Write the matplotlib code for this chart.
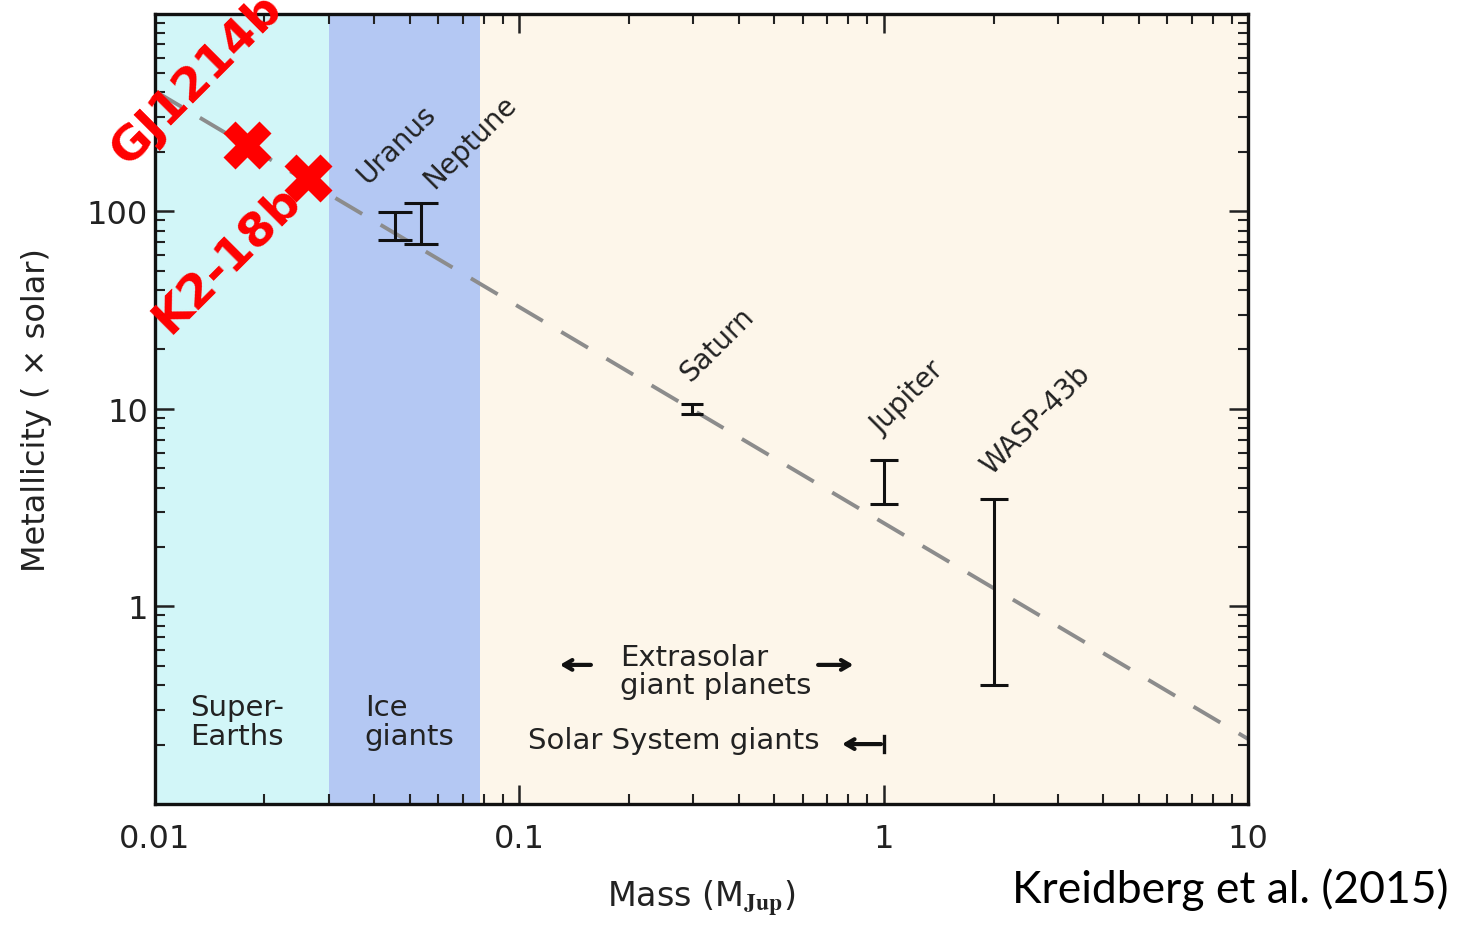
import matplotlib.pyplot as plt
import numpy as np

plt.rcParams['mathtext.fontset'] = 'stix'
plt.rcParams['font.family'] = ['DejaVu Sans']

# mass ranges of the shaded regions (M_Jup)
region_edges = [0.01, 0.03, 0.078, 10]
region_colors = ['#d2f6f8', '#b4c8f3', '#fdf6ea']
region_names = ['Super-\nEarths', 'Ice\ngiants']

# planets with metallicity error bars
planets = ['Uranus', 'Neptune', 'Saturn', 'Jupiter', 'WASP-43b']
planet_mass = [0.0456, 0.0537, 0.298, 1.0, 2.0]
metal_lo = [72, 68, 9.4, 3.3, 0.40]
metal_hi = [99, 110, 10.6, 5.5, 3.5]
cap_pt = [12, 12, 8, 10, 10]

# dashed fit line end points
fit_mass = [0.01, 10]
fit_metal = [407, 0.213]

# added targets
targets = ['GJ1214b', 'K2-18b']
target_mass = [0.0179, 0.0263]
target_metal = [217, 148]

fig = plt.figure(figsize=(14.6, 9.29), dpi=100)
ax = fig.add_axes([0.106, 0.1335, 0.749, 0.8505])

for i in range(3):
    ax.axvspan(region_edges[i], region_edges[i + 1], color=region_colors[i], lw=0, zorder=0)

ax.plot(fit_mass, fit_metal, color='#8c8c8c', lw=2.8, ls=(0, (8, 5.5)), zorder=2)

for m, lo, hi, cs in zip(planet_mass, metal_lo, metal_hi, cap_pt):
    mid = (lo * hi) ** 0.5
    ax.errorbar([m], [mid], yerr=[[mid - lo], [hi - mid]], fmt='none', ecolor='#111111',
                elinewidth=2.2, capsize=cs, capthick=2.2, zorder=3)

ax.plot(target_mass, target_metal, 'X', color='#ff0000', markersize=34, mec='none', zorder=5)

ax.set_xscale('log')
ax.set_yscale('log')
ax.set_xlim(0.01, 10)
ax.set_ylim(0.1, 1000)

ax.set_xticks([0.01, 0.1, 1, 10])
ax.set_xticklabels(['0.01', '0.1', '1', '10'])
ax.set_yticks([0.1, 1, 10, 100, 1000])
ax.set_yticklabels(['', '1', '10', '100', ''])
ax.tick_params(which='both', direction='in', top=True, right=True, color='#222222')
ax.tick_params(which='major', length=14, width=1.8, labelsize=23, labelcolor='#222222')
ax.tick_params(axis='x', which='major', pad=14)
ax.tick_params(axis='y', which='major', pad=5)
ax.tick_params(which='minor', length=7, width=1.5)
for s in ax.spines.values():
    s.set_linewidth(2.4)
    s.set_color('#111111')

ax.set_xlabel(r'Mass (M$_{\mathbf{Jup}}$)', fontsize=24, color='#222222')
ax.set_ylabel(u'Metallicity ( \u00d7 solar)', fontsize=23, color='#222222')
ax.xaxis.set_label_coords(0.5, -0.093)
ax.yaxis.set_label_coords(-0.094, 0.5)

# region labels
ax.text(0.0125, 0.262, region_names[0], fontsize=21, color='#222222', ha='left', va='center',
        linespacing=1.05)
ax.text(0.0377, 0.262, region_names[1], fontsize=21, color='#222222', ha='left', va='center',
        linespacing=1.05)

# planet names
name_xy = [(0.0462, 220), (0.0733, 227), (0.349, 21.3), (1.159, 11.5), (2.61, 8.9)]
for name, (x, y) in zip(planets, name_xy):
    ax.text(x, y, name, rotation=45, fontsize=20, color='#222222', ha='center', va='center',
            rotation_mode='anchor')

# target names
ax.text(0.0131, 470, targets[0], rotation=45, fontsize=34, color='#ff0000', fontweight='bold',
        ha='center', va='center', rotation_mode='anchor', clip_on=False)
ax.text(0.0158, 58, targets[1], rotation=45, fontsize=34, color='#ff0000', fontweight='bold',
        ha='center', va='center', rotation_mode='anchor')

# extrasolar / solar system annotations
arrow = dict(arrowstyle='->,head_length=0.6,head_width=0.35', lw=3, color='#111111')
ax.text(0.189, 0.471, 'Extrasolar\ngiant planets', fontsize=21, color='#222222', ha='left',
        va='center', linespacing=1.0)
ax.annotate('', xy=(0.127, 0.506), xytext=(0.16, 0.506), arrowprops=arrow)
ax.annotate('', xy=(0.84, 0.506), xytext=(0.649, 0.506), arrowprops=arrow)
ax.text(0.1057, 0.211, 'Solar System giants', fontsize=21, color='#222222', ha='left', va='center')
ax.annotate('', xy=(0.755, 0.201), xytext=(1.0, 0.201), arrowprops=arrow)
ax.plot([1.0, 1.0], [0.183, 0.221], color='#111111', lw=2.4)

fig.text(0.992, 0.042, 'Kreidberg et al. (2015)', fontsize=32, family='Lato', ha='right',
         va='center', color='black')

fig.savefig('out.png', dpi=100)
